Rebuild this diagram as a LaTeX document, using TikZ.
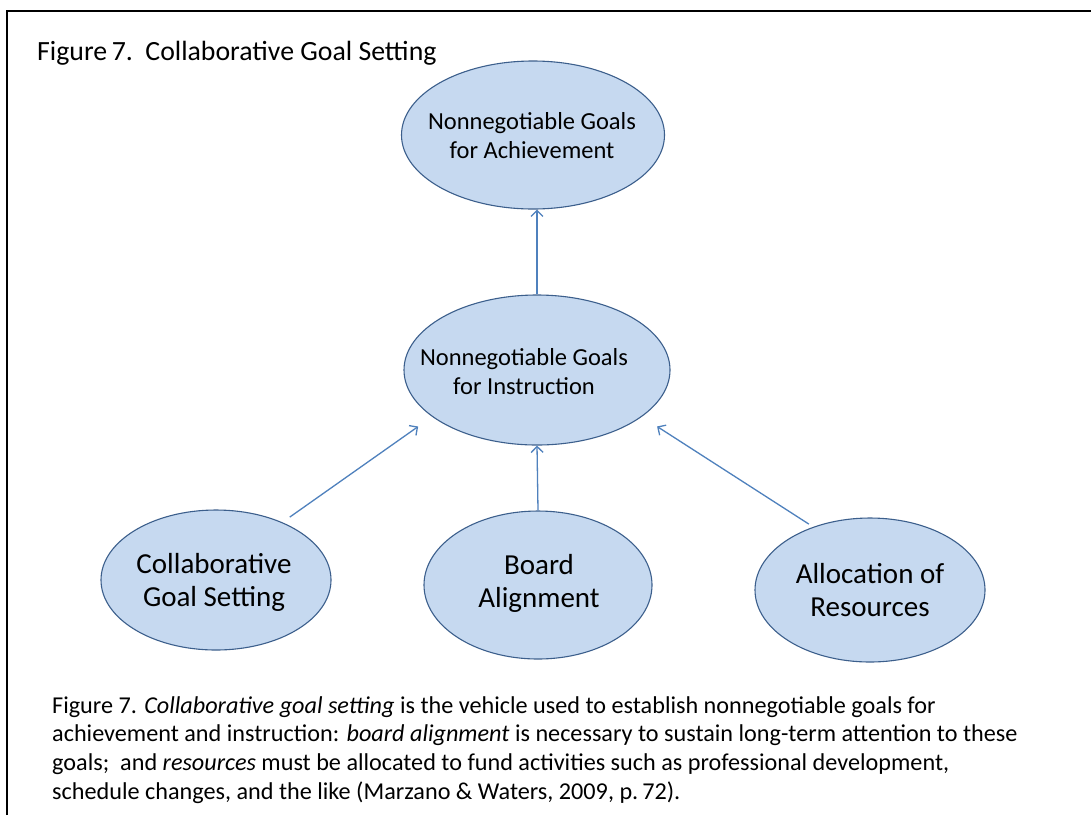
\documentclass[tikz,border=0pt]{standalone}
\usepackage{fontspec}
\setmainfont{Carlito}
\usetikzlibrary{shapes.geometric,arrows.meta}
\definecolor{ovalfill}{RGB}{198,217,240}
\definecolor{ovalborder}{RGB}{60,95,140}
\definecolor{arrowblue}{RGB}{79,129,189}
\tikzset{
  oval/.style={ellipse, draw=ovalborder, fill=ovalfill, line width=1.1pt, inner sep=0pt},
  ovaltext/.style={align=center, inner sep=0pt, text=black},
  conn/.style={draw=arrowblue, line width=1.3pt, -{Straight Barb[length=6pt,width=12pt,line width=1.3pt]}},
}
\begin{document}
\begin{tikzpicture}[x=1pt,y=-1pt]
\useasboundingbox (0,0) rectangle (1091,815);
\fill[white] (0,0) rectangle (1091,815);
\draw[line width=2pt] (6.5,815) -- (6.5,11) -- (1091,11);

\node[anchor=base west, inner sep=0pt, font=\fontsize{27.8}{30}\selectfont] (title) at (37,60) {Figure\,7.~~Collaborative Goal Setting};

% ellipses
\node[oval, minimum width=263, minimum height=148] (top) at (533,135) {};
\node[oval, minimum width=266, minimum height=150] (mid) at (537,370) {};
\node[oval, minimum width=230, minimum height=140] (coll) at (216,580) {};
\node[oval, minimum width=228, minimum height=148] (board) at (538,585) {};
\node[oval, minimum width=230, minimum height=144] (alloc) at (870,590) {};

% texts
\node[ovaltext, font=\fontsize{24.5}{29}\selectfont] (toptext) at (532,136) {Nonnegotiable Goals\\for Achievement};
\node[ovaltext, font=\fontsize{24.5}{29}\selectfont] (midtext) at (524,372) {Nonnegotiable Goals\\for Instruction};
\node[ovaltext, font=\fontsize{29}{33}\selectfont] (colltext) at (214,582) {Collaborative\\Goal Setting};
\node[ovaltext, font=\fontsize{29}{33}\selectfont] (boardtext) at (539,583) {Board\\Alignment};
\node[ovaltext, font=\fontsize{29}{33}\selectfont] (alloctext) at (870,590) {Allocation of\\Resources};

% connectors
\draw[conn] (mid.north) -- (mid.north |- top.south);
\draw[conn] (board.north) -- (mid.south);
\draw[conn, shorten <=9pt, shorten >=17pt] (coll.41.6) -- (mid.204.2);
\draw[conn, shorten <=5pt, shorten >=18pt] (alloc.132.3) -- (mid.-24.6);

% caption
\node[anchor=north west, align=left, inner sep=0pt, font=\fontsize{24.2}{28.7}\selectfont] (caption) at (52,696)
{Figure 7. \textit{Collaborative goal setting} is the vehicle used to establish nonnegotiable goals for\\
achievement and instruction: \textit{board alignment} is necessary to sustain long-term attention to these\\
goals;~ and \textit{resources} must be allocated to fund activities such as professional development,\\
schedule changes, and the like (Marzano \& Waters, 2009, p.\,72).};
\end{tikzpicture}
\end{document}
